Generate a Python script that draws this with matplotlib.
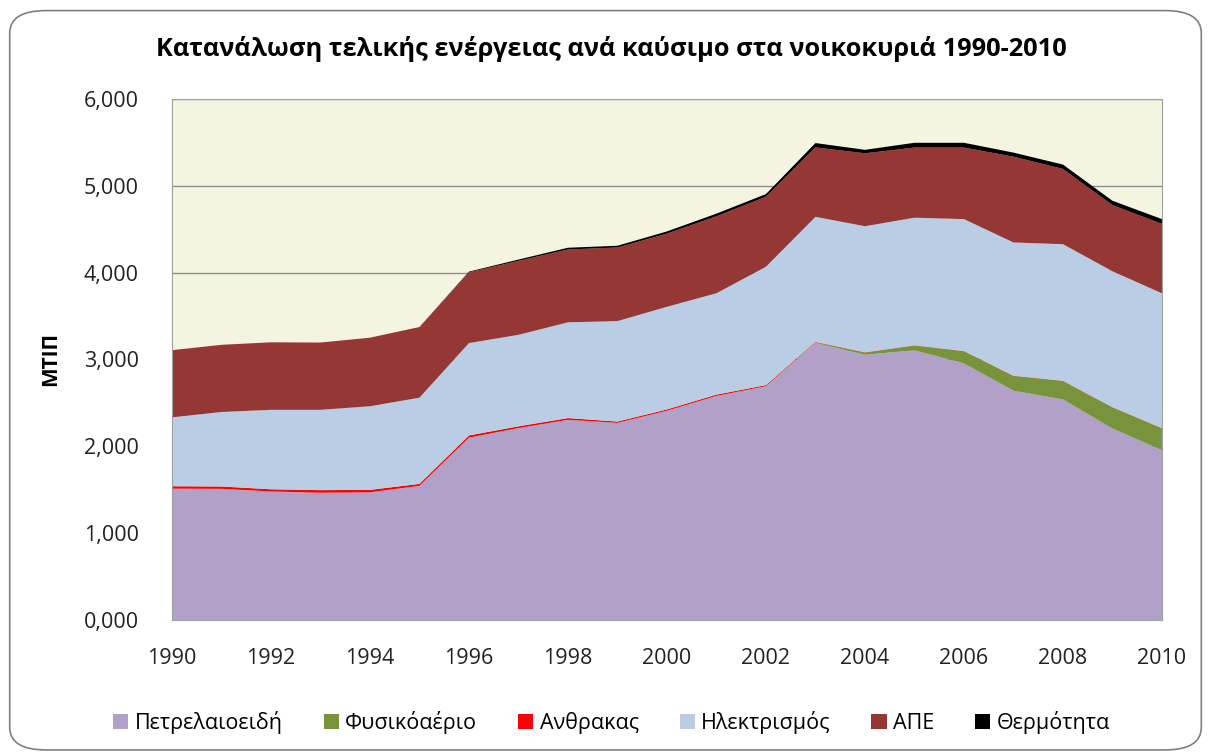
import matplotlib.pyplot as plt
from matplotlib.patches import FancyBboxPatch

plt.rcParams['font.family'] = ['Open Sans', 'DejaVu Sans']

years = list(range(1990, 2011))

# ktoe (ΜΤΙΠ)
oil = [1512, 1510, 1480, 1465, 1470, 1545, 2100, 2210, 2305, 2270, 2410,
       2580, 2690, 3190, 3055, 3105, 2955, 2640, 2540, 2205, 1955]
gas = [0, 0, 0, 0, 0, 0, 0, 0, 0, 0, 0,
       0, 3, 8, 25, 55, 140, 170, 212, 243, 252]
coal = [28, 27, 25, 30, 28, 22, 25, 20, 20, 15, 15,
        15, 12, 5, 3, 3, 3, 3, 3, 3, 3]
elec = [793, 858, 915, 925, 963, 993, 1064, 1054, 1103, 1157, 1182,
        1168, 1363, 1440, 1452, 1470, 1519, 1535, 1573, 1565, 1552]
res = [774, 774, 778, 775, 790, 814, 815, 852, 839, 848, 843,
       887, 807, 800, 840, 808, 824, 988, 867, 762, 800]
heat = [0, 0, 0, 0, 0, 0, 8, 15, 20, 20, 25,
        30, 30, 50, 40, 55, 55, 47, 50, 50, 55]

labels = ['Πετρελαιοειδή', 'Φυσικόαέριο', 'Ανθρακας', 'Ηλεκτρισμός', 'ΑΠΕ', 'Θερμότητα']
colors = ['#B1A0C7', '#77933C', '#FF0000', '#B9CDE5', '#953735', '#000000']

yticks = [0, 1000, 2000, 3000, 4000, 5000, 6000]
ytick_labels = ['0,000', '1,000', '2,000', '3,000', '4,000', '5,000', '6,000']
xticks = list(range(1990, 2011, 2))

fig = plt.figure(figsize=(12.11, 7.56), dpi=100)
ax = fig.add_axes([0.142, 0.180, 0.8175, 0.689])

# rounded chart border
border = FancyBboxPatch((0.008, 0.008), 0.984, 0.978, boxstyle='round,pad=0,rounding_size=0.03',
                        transform=fig.transFigure, fill=False, edgecolor='#7f7f7f', linewidth=1.2)
fig.patches.append(border)

ax.set_facecolor('#F3F5E1')
ax.stackplot(years, oil, gas, coal, elec, res, heat, colors=colors, labels=labels,
             linewidth=0)

ax.set_xlim(1990, 2010)
ax.set_ylim(0, 6000)
ax.set_yticks(yticks)
ax.set_yticklabels(ytick_labels)
ax.set_xticks(xticks)
ax.tick_params(length=0, labelsize=15.5, colors='#222222')
ax.tick_params(axis='x', pad=20)
ax.tick_params(axis='y', pad=24)
ax.grid(axis='y', color='#8c8c8c', linewidth=1)
ax.set_axisbelow(True)
for s in ax.spines.values():
    s.set_color('#a0a0a0')

ax.set_ylabel('ΜΤΙΠ', fontsize=15, fontweight='bold', labelpad=16)
fig.text(0.505, 0.935, 'Κατανάλωση τελικής ενέργειας ανά καύσιμο στα νοικοκυριά 1990-2010',
         ha='center', va='center', fontsize=18.3, fontweight='bold')

handles, names = ax.get_legend_handles_labels()
fig.legend(handles, names, loc='center', bbox_to_anchor=(0.505, 0.044), ncol=6, frameon=False,
           fontsize=15.5, handlelength=0.7, handleheight=0.7, handletextpad=0.3,
           columnspacing=1.9)

fig.savefig('out.png', dpi=100)
